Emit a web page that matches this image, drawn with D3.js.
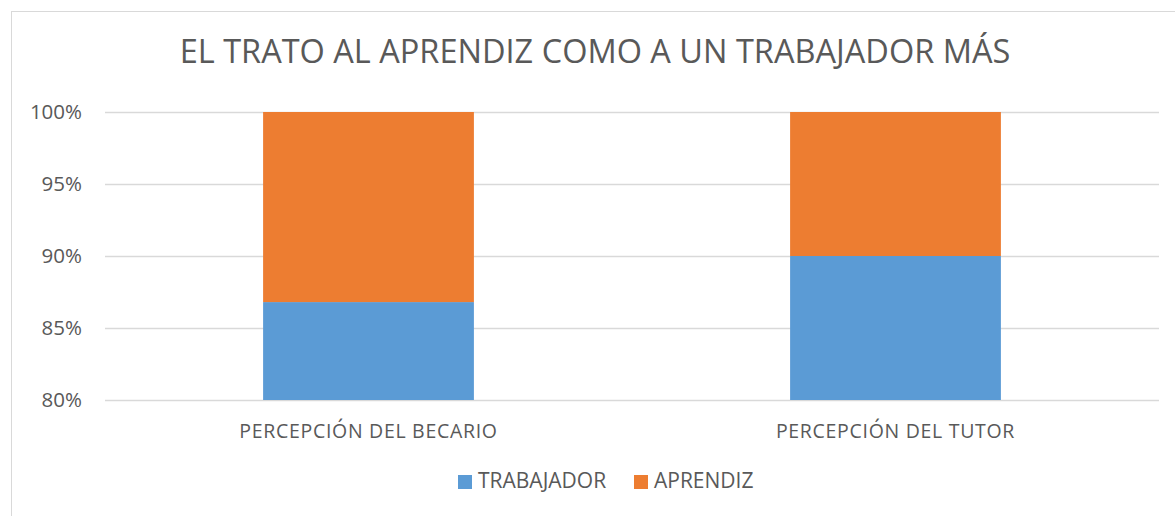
<!DOCTYPE html>
<html>
<head>
<meta charset="utf-8">
<script src="https://cdn.jsdelivr.net/npm/d3@7"></script>
<style>
  body { margin: 0; background: #fff; }
  svg { display: block; font-family: "Open Sans", "Noto Sans", sans-serif; }
</style>
</head>
<body>
<div id="chart"></div>
<script>
// datos del grafico
const categories = ["PERCEPCIÓN DEL BECARIO", "PERCEPCIÓN DEL TUTOR"];
const seriesNames = ["TRABAJADOR", "APRENDIZ"];
const trabajador = [0.868, 0.90];
const aprendiz = [0.132, 0.10];
const yTicks = [0.80, 0.85, 0.90, 0.95, 1.00];
const colors = ["#5b9bd5", "#ed7d31"];

const width = 1175, height = 516;
const margin = { top: 112, right: 16, bottom: 116, left: 105 };

const svg = d3.select("#chart").append("svg")
  .attr("width", width)
  .attr("height", height);

// marco
svg.append("rect")
  .attr("x", 11.5).attr("y", 11.5)
  .attr("width", width).attr("height", height)
  .attr("fill", "none")
  .attr("stroke", "#d9d9d9");

svg.append("text")
  .attr("x", 595).attr("y", 63)
  .attr("text-anchor", "middle")
  .attr("font-size", 32.5)
  .attr("fill", "#595959")
  .text("EL TRATO AL APRENDIZ COMO A UN TRABAJADOR MÁS");

const x = d3.scaleBand()
  .domain(categories)
  .range([margin.left, width - margin.right])
  .paddingInner(0.6)
  .paddingOuter(0.3);

const y = d3.scaleLinear()
  .domain([0.8, 1.0])
  .range([height - margin.bottom, margin.top]);

// lineas de cuadricula
svg.append("g")
  .selectAll("line")
  .data(yTicks)
  .join("line")
  .attr("x1", margin.left).attr("x2", width - margin.right)
  .attr("y1", d => y(d) + 0.5).attr("y2", d => y(d) + 0.5)
  .attr("stroke", "#d9d9d9")
  .attr("stroke-width", 1.5);

svg.append("g")
  .selectAll("text")
  .data(yTicks)
  .join("text")
  .attr("x", 82)
  .attr("y", d => y(d) + 7)
  .attr("text-anchor", "end")
  .attr("font-size", 20.5)
  .attr("fill", "#595959")
  .text(d3.format(".0%"));

const stackData = categories.map((c, i) => ({ cat: c, TRABAJADOR: trabajador[i], APRENDIZ: aprendiz[i] }));
const stacked = d3.stack().keys(seriesNames)(stackData);

svg.append("g")
  .selectAll("g")
  .data(stacked)
  .join("g")
  .attr("fill", (d, i) => colors[i])
  .selectAll("rect")
  .data(d => d)
  .join("rect")
  .attr("x", d => x(d.data.cat))
  .attr("width", x.bandwidth())
  .attr("y", d => y(Math.min(d[1], 1)))
  .attr("height", d => y(Math.max(d[0], 0.8)) - y(Math.min(d[1], 1)));

svg.append("g")
  .selectAll("text")
  .data(categories)
  .join("text")
  .attr("x", d => x(d) + x.bandwidth() / 2)
  .attr("y", 438)
  .attr("text-anchor", "middle")
  .attr("font-size", 19.5)
  .attr("letter-spacing", 0.7)
  .attr("fill", "#595959")
  .text(d => d);

// leyenda
const legendX = [458, 634];
const legend = svg.append("g")
  .selectAll("g")
  .data(seriesNames)
  .join("g")
  .attr("transform", (d, i) => `translate(${legendX[i]},475)`);
legend.append("rect")
  .attr("width", 14).attr("height", 14)
  .attr("fill", (d, i) => colors[i]);
legend.append("text")
  .attr("x", 20).attr("y", 13)
  .attr("font-size", 21)
  .attr("fill", "#595959")
  .text(d => d);
</script>
</body>
</html>
